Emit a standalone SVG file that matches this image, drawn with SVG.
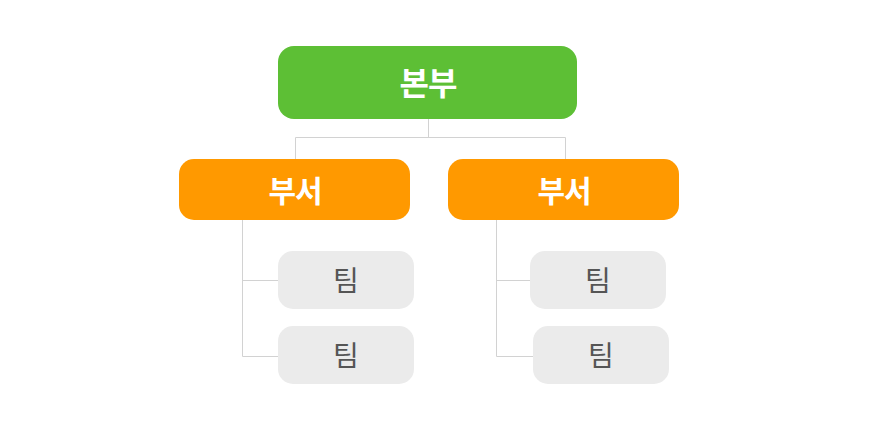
<svg xmlns="http://www.w3.org/2000/svg" width="878" height="430" viewBox="0 0 878 430">
<style>
.hq{fill:#5dbf35}
.dept{fill:#ff9900}
.team{fill:#ebebeb}
.lbl{font-family:"Noto Sans CJK KR","Noto Sans",sans-serif;text-anchor:middle;dominant-baseline:central}
.w{fill:#ffffff;font-weight:bold;letter-spacing:-1px}
.g{fill:#555555;font-size:28px}
.conn{fill:none;stroke:#d2d2d2;stroke-width:1}
</style>
<rect width="878" height="430" fill="#ffffff"/>
<g id="connectors">
<path class="conn" d="M428.5 119V137.5M295.5 159V137.5H565.5V159"/>
<path class="conn" d="M242.5 220V356.5H278M242.5 280.5H278"/>
<path class="conn" d="M496.5 220V356.5H533M496.5 280.5H530"/>
</g>
<g id="hq">
<rect class="hq" x="278" y="46" width="299" height="73" rx="16"/>
<text class="lbl w" x="428" y="81" font-size="32">본부</text>
</g>
<g id="dept1">
<rect class="dept" x="179" y="159" width="231" height="61" rx="15"/>
<text class="lbl w" x="295" y="189" font-size="30">부서</text>
</g>
<g id="dept2">
<rect class="dept" x="448" y="159" width="231" height="61" rx="15"/>
<text class="lbl w" x="564" y="189" font-size="30">부서</text>
</g>
<g id="team1">
<rect class="team" x="278" y="251" width="136" height="58" rx="15"/>
<text class="lbl g" x="346" y="279">팀</text>
</g>
<g id="team2">
<rect class="team" x="278" y="326" width="136" height="58" rx="15"/>
<text class="lbl g" x="346" y="354">팀</text>
</g>
<g id="team3">
<rect class="team" x="530" y="251" width="136" height="58" rx="15"/>
<text class="lbl g" x="598" y="279">팀</text>
</g>
<g id="team4">
<rect class="team" x="533" y="326" width="136" height="58" rx="15"/>
<text class="lbl g" x="601" y="354">팀</text>
</g>
</svg>
